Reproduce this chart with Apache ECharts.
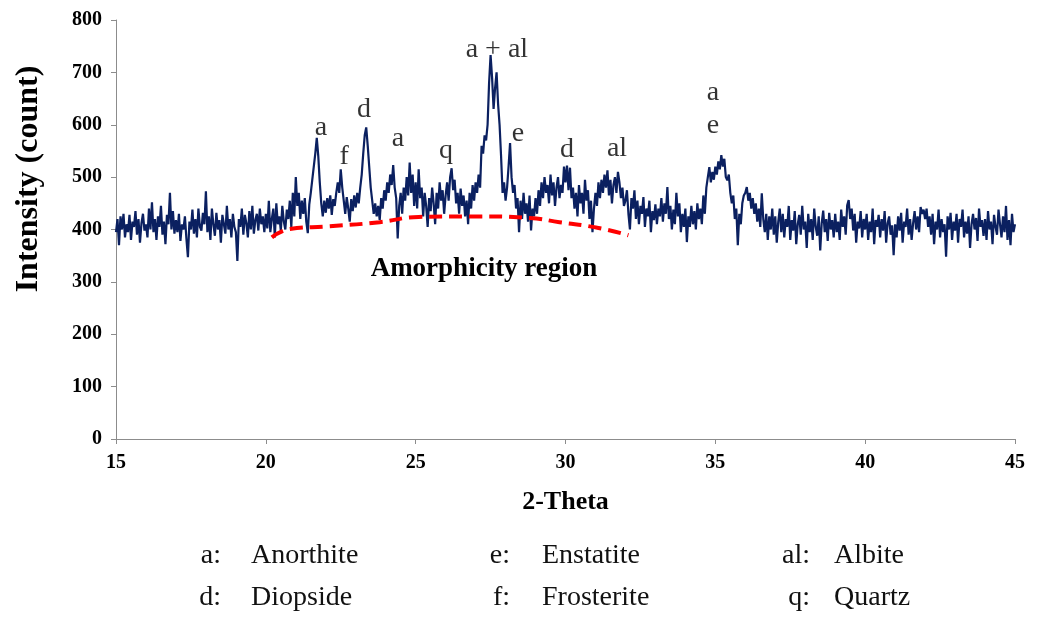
<!DOCTYPE html>
<html>
<head>
<meta charset="utf-8">
<script src="https://cdn.jsdelivr.net/npm/echarts@6/dist/echarts.min.js"></script>
<style>
  html, body { margin: 0; padding: 0; background: #ffffff; }
  #chart { width: 1038px; height: 617px; }
</style>
</head>
<body>
<div id="chart"></div>
<script>
// XRD scan: 2-theta from 15 to 45 degrees, 0.05 degree step
const thetaStart = 15;
const thetaStep = 0.05;

// Measured intensity (count), one row per degree
const intensity = [
  395, 420, 370, 425, 400, 430, 385, 410, 395, 428, 380, 415, 405, 435, 390, 420, 375, 412, 430, 398, // 15
  410, 385, 440, 400, 452, 395, 420, 380, 425, 405, 445, 390, 415, 372, 428, 410, 470, 400, 435, 392, // 16
  418, 395, 430, 378, 410, 400, 425, 382, 347, 415, 400, 438, 392, 420, 385, 440, 405, 398, 432, 410, // 17
  473, 395, 425, 380, 440, 410, 388, 432, 400, 418, 375, 428, 410, 392, 445, 400, 420, 385, 430, 405, // 18
  395, 340, 420, 405, 440, 390, 428, 412, 385, 435, 400, 445, 392, 418, 430, 398, 440, 410, 425, 395, // 19
  430, 402, 455, 395, 420, 440, 385, 450, 410, 425, 398, 445, 415, 400, 438, 420, 455, 405, 470, 425, // 20
  500, 445, 470, 420, 455, 430, 460, 415, 393, 448, 470, 495, 520, 545, 575, 540, 490, 450, 425, 455, // 21
  432, 460, 440, 465, 428, 458, 445, 470, 490, 470, 515, 480, 455, 430, 462, 440, 415, 458, 435, 465, // 22
  442, 470, 450, 480, 505, 545, 580, 595, 560, 520, 480, 455, 430, 450, 425, 445, 418, 460, 440, 475, // 23
  455, 490, 470, 505, 485, 523, 480, 460, 383, 445, 470, 430, 480, 455, 500, 465, 528, 470, 505, 445, // 24
  490, 440, 515, 460, 480, 425, 470, 445, 405, 460, 435, 480, 450, 410, 470, 440, 490, 455, 475, 430, // 25
  465, 490, 455, 500, 517, 475, 495, 450, 470, 430, 478, 445, 465, 425, 455, 410, 470, 440, 485, 455, // 26
  490, 470, 505, 480, 560, 545, 580, 570, 600, 680, 733, 690, 630, 670, 700, 640, 600, 540, 470, 490, // 27
  455, 480, 520, 565, 500, 470, 485, 440, 460, 395, 455, 420, 470, 430, 450, 415, 465, 398, 440, 425, // 28
  460, 430, 475, 445, 490, 460, 500, 470, 485, 450, 505, 465, 490, 445, 480, 500, 460, 485, 470, 520, // 29
  490, 522, 475, 518, 460, 480, 440, 470, 425, 485, 450, 470, 430, 495, 455, 475, 420, 455, 395, 440, // 30
  470, 445, 490, 460, 495, 470, 505, 480, 513, 465, 495, 450, 485, 500, 470, 510, 490, 460, 480, 445, // 31
  455, 475, 430, 400, 460, 440, 475, 420, 455, 410, 445, 430, 462, 405, 440, 425, 455, 395, 435, 418, // 32
  448, 410, 440, 425, 460, 415, 450, 430, 481, 420, 445, 400, 438, 410, 470, 425, 450, 395, 430, 405, // 33
  440, 376, 425, 405, 445, 410, 435, 400, 450, 420, 440, 410, 465, 430, 480, 500, 519, 490, 510, 495, // 34
  520, 505, 530, 515, 542, 520, 535, 500, 494, 505, 470, 450, 465, 420, 440, 370, 430, 410, 450, 465, // 35
  470, 481, 455, 470, 440, 460, 430, 450, 415, 440, 405, 469, 420, 395, 430, 380, 425, 400, 440, 390, // 36
  425, 375, 415, 440, 395, 430, 385, 420, 405, 445, 380, 418, 398, 435, 372, 410, 428, 390, 445, 400, // 37
  415, 365, 430, 395, 420, 380, 440, 405, 388, 425, 360, 412, 436, 395, 420, 378, 432, 400, 418, 385, // 38
  430, 395, 415, 380, 438, 405, 425, 390, 446, 456, 420, 440, 398, 430, 375, 415, 402, 435, 385, 420, // 39
  400, 430, 380, 415, 395, 440, 372, 418, 405, 428, 385, 420, 398, 435, 375, 412, 425, 390, 408, 351, // 40
  410, 385, 425, 398, 432, 375, 415, 405, 440, 390, 420, 380, 412, 435, 400, 425, 395, 443, 430, 438, // 41
  420, 440, 405, 425, 390, 430, 372, 415, 400, 438, 385, 420, 395, 410, 348, 425, 400, 432, 380, 415, // 42
  398, 430, 375, 420, 405, 438, 385, 415, 392, 425, 365, 410, 430, 400, 422, 378, 440, 405, 418, 388, // 43
  420, 380, 435, 400, 415, 372, 428, 405, 390, 438, 410, 385, 425, 395, 445, 380, 418, 370, 430, 395, // 44
  410                                                                                              // 45
];

// Amorphous background hump under the crystalline peaks
const humpTheta = [20.2, 20.8, 22.1, 23.8, 25.1, 27.1, 28.8, 29.8, 31.1, 32.1];
const humpCount = [385, 401, 406, 414, 424, 425, 422, 414, 403, 389];

// Axis ranges
const xMin = 15, xMax = 45, xStep = 5;
const yMin = 0, yMax = 800, yStep = 100;

// Phase labels above peaks
const peakText  = ['a', 'f', 'd', 'a', 'q', 'a + al', 'e', 'd', 'al', 'a', 'e'];
const peakTheta = [21.84, 22.61, 23.28, 24.41, 26.01, 27.71, 28.41, 30.05, 31.72, 34.92, 34.92];
const peakLevel = [595, 539, 629, 574, 551, 744, 583, 553, 555, 662, 599];

// Phase key
const keySymbols = ['a:', 'e:', 'al:', 'd:', 'f:', 'q:'];
const keyNames = ['Anorthite', 'Enstatite', 'Albite', 'Diopside', 'Frosterite', 'Quartz'];

const serif = "'Liberation Serif', 'Times New Roman', serif";

const scan = intensity.map((v, i) => [+(thetaStart + i * thetaStep).toFixed(2), v]);
const hump = humpTheta.map((t, i) => [t, humpCount[i]]);
const labels = peakText.map((t, i) => ({ value: [peakTheta[i], peakLevel[i]], name: t }));

const chart = echarts.init(document.getElementById('chart'), null, { renderer: 'canvas' });

// Key laid out in three columns, two rows
const keyColX = [[221, 251], [510, 542], [810, 834]];
const keyRowY = [556, 598];
const keyGraphics = [];
keySymbols.forEach((s, i) => {
  const col = keyColX[i % 3];
  const y = keyRowY[Math.floor(i / 3)];
  keyGraphics.push({
    type: 'text', x: col[0], y: y,
    style: { text: s, font: '28px ' + serif, fill: '#111', align: 'right', verticalAlign: 'middle' }
  });
  keyGraphics.push({
    type: 'text', x: col[1], y: y,
    style: { text: keyNames[i], font: '28px ' + serif, fill: '#111', align: 'left', verticalAlign: 'middle' }
  });
});

chart.setOption({
  animation: false,
  backgroundColor: '#ffffff',
  grid: { left: 116, right: 23, top: 20, bottom: 178, containLabel: false },
  xAxis: {
    type: 'value', min: xMin, max: xMax, interval: xStep,
    name: '2-Theta', nameLocation: 'middle', nameGap: 50,
    nameTextStyle: { fontFamily: serif, fontWeight: 'bold', fontSize: 26, color: '#000' },
    axisLine: { lineStyle: { color: '#8c8c8c', width: 1 } },
    axisTick: { show: true, length: 5, inside: false, lineStyle: { color: '#8c8c8c' } },
    axisLabel: { fontFamily: serif, fontWeight: 'bold', fontSize: 20, color: '#000', margin: 14 },
    splitLine: { show: false }
  },
  yAxis: {
    type: 'value', min: yMin, max: yMax, interval: yStep,
    axisLine: { show: true, lineStyle: { color: '#8c8c8c', width: 1 } },
    axisTick: { show: true, length: 5, inside: false, lineStyle: { color: '#8c8c8c' } },
    axisLabel: { fontFamily: serif, fontWeight: 'bold', fontSize: 20, color: '#000', margin: 14 },
    splitLine: { show: false }
  },
  series: [
    {
      type: 'line', name: 'scan', data: scan, symbol: 'none', z: 2,
      lineStyle: { color: '#0b2060', width: 2.2 }
    },
    {
      type: 'line', name: 'amorphous', data: hump, symbol: 'none', smooth: 0.5, z: 3,
      lineStyle: { color: '#ff0000', width: 4, type: [13, 7] }
    },
    {
      type: 'scatter', name: 'phases', data: labels, symbolSize: 0, z: 4, silent: true,
      label: {
        show: true, position: 'inside', formatter: p => p.name,
        fontFamily: serif, fontSize: 28, color: '#000'
      }
    }
  ],
  graphic: [
    {
      // vertical axis title, placed a little above the axis midpoint
      type: 'text', x: 29, y: 179, rotation: Math.PI / 2,
      style: { text: 'Intensity (count)', font: 'bold 32px ' + serif, fill: '#000', align: 'center', verticalAlign: 'middle' }
    },
    {
      type: 'text', x: 484, y: 269,
      style: { text: 'Amorphicity region', font: 'bold 27px ' + serif, fill: '#000', align: 'center', verticalAlign: 'middle' }
    }
  ].concat(keyGraphics)
});
</script>
</body>
</html>
